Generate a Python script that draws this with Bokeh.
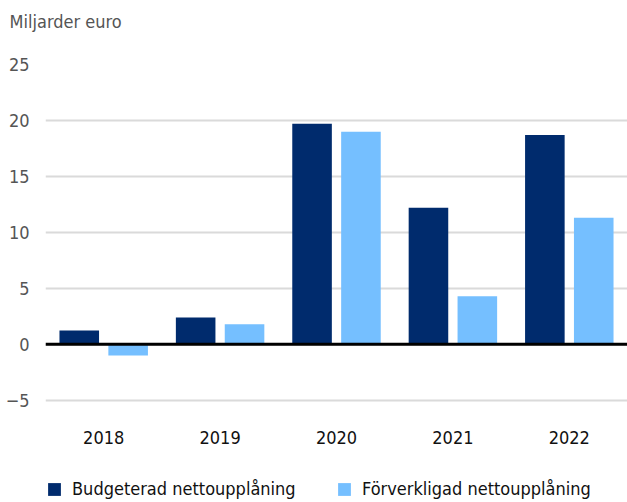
from bokeh.plotting import figure
from bokeh.models import Span, Legend, LegendItem, FactorRange, ColumnDataSource, Range1d
from bokeh.layouts import column
from bokeh.transform import dodge
from bokeh.embed import file_html
from bokeh.resources import INLINE

years = ["2018", "2019", "2020", "2021", "2022"]
budgeted = [1.25, 2.4, 19.7, 12.2, 18.7]
realized = [-1.0, 1.8, 19.0, 4.3, 11.3]
y_ticks = [-5, 0, 5, 10, 15, 20, 25]
series_names = ["Budgeterad nettoupplåning", "Förverkligad nettoupplåning"]
unit_label = "Miljarder euro"

FONT = "'Liberation Sans Narrow', 'Noto Sans Condensed', 'DejaVu Sans Condensed', sans-serif"
FS = "18px"
DARK = "#002B6D"
LIGHT = "#75BFFF"

# main chart
src = ColumnDataSource(dict(year=years, b=budgeted, r=realized))

p = figure(x_range=FactorRange(*years, range_padding=0), y_range=(-6.8, 25),
           width=627, height=462, output_backend="svg", toolbar_location=None,
           min_border_left=45, min_border_right=0, min_border_top=64, min_border_bottom=42)
p.outline_line_color = None

# second (empty) line gives the title box the height to sit near the top edge
p.title.text = unit_label + "\n "
p.title.text_font = FONT
p.title.text_font_size = FS
p.title.text_font_style = "normal"
p.title.text_color = "#555555"
p.title.align = "left"
p.title.vertical_align = "top"
p.title.offset = -36
p.title.standoff = 19

p.vbar(x=dodge("year", -0.21, range=p.x_range), top="b", bottom=0, width=0.34,
       source=src, color=DARK, line_color=None)
p.vbar(x=dodge("year", 0.21, range=p.x_range), top="r", bottom=0, width=0.34,
       source=src, color=LIGHT, line_color=None)

p.add_layout(Span(location=0, dimension="width", line_color="black", line_width=3))

p.xgrid.grid_line_color = None
p.ygrid.grid_line_color = "#DADADA"
p.ygrid.grid_line_width = 2
p.yaxis.ticker = y_ticks
p.yaxis.major_label_overrides = {-5: "\u22125"}

for ax in (p.xaxis, p.yaxis):
    ax.axis_line_color = None
    ax.major_tick_line_color = None
    ax.minor_tick_line_color = None
    ax.major_tick_out = 0
    ax.major_tick_in = 0
    ax.minor_tick_out = 0
    ax.major_label_text_font = FONT
    ax.major_label_text_font_size = FS
p.yaxis.major_label_text_color = "#555555"
p.xaxis.major_label_text_color = "#111111"
p.yaxis.major_label_standoff = 16
p.xaxis.major_label_standoff = 10

# legend strip (its frame is aligned with the chart frame in the column)
lg = figure(width=627, height=40, output_backend="svg", toolbar_location=None,
            x_range=Range1d(0, 1), y_range=Range1d(0, 1),
            x_axis_type=None, y_axis_type=None,
            min_border_left=45, min_border_right=0, min_border_top=0, min_border_bottom=0)
lg.outline_line_color = None
lg.grid.visible = False
r1 = lg.vbar(x=[5], top=[5], bottom=[4], width=0.1, color=DARK, line_color=None)
r2 = lg.vbar(x=[5], top=[5], bottom=[4], width=0.1, color=LIGHT, line_color=None)

for rend, name, xpos in ((r1, series_names[0], 1), (r2, series_names[1], 291)):
    leg = Legend(items=[LegendItem(label=name, renderers=[rend])],
                 location=(xpos, 3), orientation="horizontal",
                 label_text_font=FONT, label_text_font_size=FS, label_text_color="#111111",
                 glyph_width=16, glyph_height=16, padding=0, margin=0,
                 border_line_color=None, background_fill_alpha=0, label_standoff=10)
    lg.add_layout(leg)

layout = column(p, lg, spacing=0)
open("out.html", "w").write(file_html(layout, INLINE))
